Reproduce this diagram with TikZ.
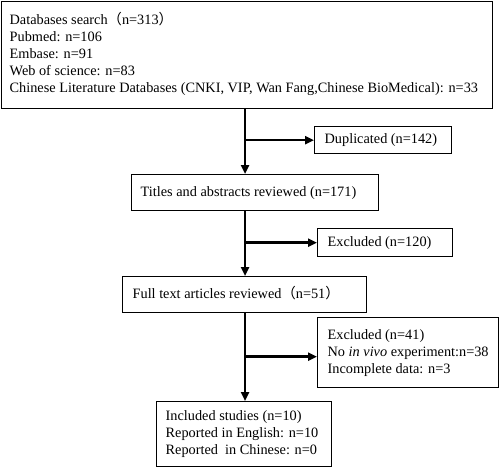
\documentclass[tikz,border=0pt]{standalone}
\usepackage{fontspec}
\setmainfont{Liberation Serif}
\newfontfamily\cjk{Noto Sans CJK SC}
\usetikzlibrary{arrows.meta}
\newcommand\boxtext[2]{\makebox[#1pt][l]{\begin{tabular}{@{}l@{}}#2\end{tabular}}}
\begin{document}
\begin{tikzpicture}[x=1pt,y=-1pt,
  box/.style={draw,line width=1.3pt,anchor=north west,inner ysep=0pt,inner xsep=0pt,
    font=\fontsize{14.3}{17}\selectfont},
  flow/.style={line width=2.6pt,-{Triangle[length=9pt,width=8pt]}}]
\useasboundingbox (0,0) rectangle (500,467);
\node[box,minimum width=491pt,minimum height=107pt] (db) at (1,1)
  {\hspace{8pt}\boxtext{483}{Databases search{\cjk （}n=313{\cjk ）}\\Pubmed: n=106\\Embase: n=91\\Web of science: n=83\\Chinese Literature Databases (CNKI, VIP, Wan Fang,Chinese BioMedical): n=33}};
\node[box,minimum width=137pt,minimum height=27pt] (dup) at (314,126) {\hspace{10pt}\boxtext{127}{Duplicated (n=142)}};
\node[box,minimum width=247pt,minimum height=36pt] (ta) at (131,174) {\hspace{9pt}\boxtext{238}{Titles and abstracts reviewed (n=171)}};
\node[box,minimum width=135pt,minimum height=28pt] (ex1) at (317,228) {\hspace{10pt}\boxtext{125}{Excluded (n=120)}};
\node[box,minimum width=244pt,minimum height=36pt] (ft) at (122,276) {\hspace{10pt}\boxtext{234}{Full text articles reviewed{\cjk （}n=51{\cjk ）}}};
\node[box,minimum width=181pt,minimum height=70pt] (ex2) at (317,317)
  {\hspace{10pt}\boxtext{171}{Excluded (n=41)\\No \textit{in vivo} experiment:n=38\\Incomplete data: n=3}};
\node[box,minimum width=175pt,minimum height=65pt] (inc) at (156,401)
  {\hspace{9pt}\boxtext{166}{Included studies (n=10)\\Reported in English: n=10\\Reported\ \ in Chinese: n=0}};
\coordinate (sp) at (245,0);
\draw[flow] (db.south -| sp) -- (ta.north -| sp);
\draw[flow] (sp |- dup.west) -- (dup.west);
\draw[flow] (ta.south -| sp) -- (ft.north -| sp);
\draw[flow] (sp |- ex1.west) -- (ex1.west);
\draw[flow] (ft.south -| sp) -- (inc.north -| sp);
\coordinate (b3) at ([yshift=-4pt]ex2.west);
\draw[flow] (sp |- b3) -- (b3);
\end{tikzpicture}
\end{document}
